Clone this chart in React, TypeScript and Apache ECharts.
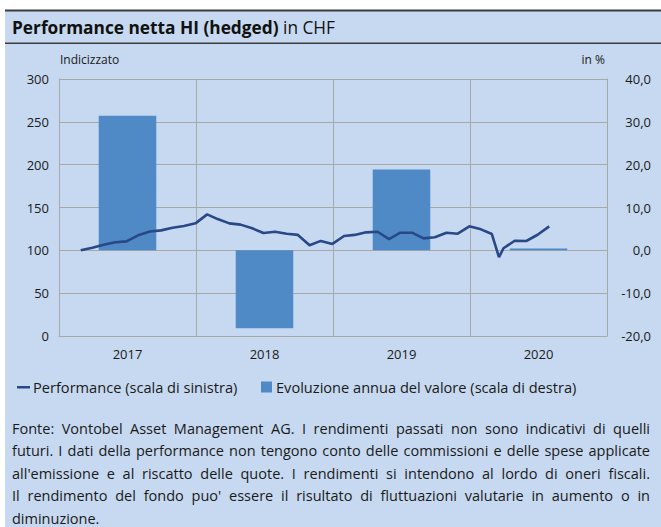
import React, { useEffect, useRef } from "react";
import * as echarts from "echarts";

// ---- data ----
const years = ["2017", "2018", "2019", "2020"];
const annualReturns = [31.4, -18.2, 18.9, 0.4]; // % (right scale)

const perfDates = [
  "2017-02-28", "2017-03-31", "2017-04-30", "2017-05-31", "2017-06-30", "2017-07-31",
  "2017-08-31", "2017-09-30", "2017-10-31", "2017-11-30", "2017-12-31",
  "2018-01-31", "2018-02-28", "2018-03-31", "2018-04-30", "2018-05-31", "2018-06-30",
  "2018-07-31", "2018-08-31", "2018-09-30", "2018-10-31", "2018-11-30", "2018-12-31",
  "2019-01-31", "2019-02-28", "2019-03-31", "2019-04-30", "2019-05-31", "2019-06-30",
  "2019-07-31", "2019-08-31", "2019-09-30", "2019-10-31", "2019-11-30", "2019-12-31",
  "2020-01-31", "2020-02-29", "2020-03-19", "2020-03-31", "2020-04-30", "2020-05-31",
  "2020-06-30", "2020-07-31",
];
const perfValues = [
  100, 103, 106.5, 109.5, 110.5, 117.5,
  122, 123.3, 126.4, 128.5, 131.5,
  142, 136.5, 131.5, 130, 125.7, 120.2,
  121.7, 119.4, 118, 106, 111, 107.5,
  116.7, 118, 121, 121.7, 113.2, 120.6,
  120.6, 114, 115.2, 120.6, 119.4, 128,
  124.5, 119, 92, 102.4, 111.2, 110.9,
  118.2, 128,
];

const leftAxis = { min: 0, max: 300, interval: 50 };
const rightAxis = { min: -20, max: 40, interval: 10 };

const titleBold = "Performance netta HI (hedged)";
const titleRest = " in CHF";
const leftAxisName = "Indicizzato";
const rightAxisName = "in %";
const legendLine = "Performance (scala di sinistra)";
const legendBar = "Evoluzione annua del valore (scala di destra)";
const footnoteLines = [
  "Fonte: Vontobel Asset Management AG. I rendimenti passati non sono indicativi di quelli",
  "futuri. I dati della performance non tengono conto delle commissioni e delle spese applicate",
  "all'emissione e al riscatto delle quote. I rendimenti si intendono al lordo di oneri fiscali.",
  "Il rendimento del fondo puo' essere il risultato di fluttuazioni valutarie in aumento o in",
  "diminuzione.",
];

const FONT = "'Open Sans', sans-serif";
const PANEL = "#C6D9F0";
const BAR = "#4F89C6";
const LINE = "#294887";
const GRID = "#A8A8A8";
const TEXT = "#1A1A1A";

export default function App() {
  const ref = useRef<HTMLDivElement>(null);

  useEffect(() => {
    const el = ref.current!;
    const chart = echarts.init(el, null, { renderer: "svg" });

    const ctx = document.createElement("canvas").getContext("2d")!;
    const measure = (t: string, size: number, weight = "normal") => {
      ctx.font = `${weight} ${size}px 'Open Sans'`;
      return ctx.measureText(t).width;
    };

    // footnote: justified lines between x0 and x1
    const x0 = 12;
    const x1 = 650;
    let fs = (636 / measure(footnoteLines[1], 100)) * 100;
    fs = Math.max(12.5, Math.min(14.5, fs));
    const lineYs = [428, 450.5, 473, 495.5, 518];
    const footEls: any[] = [];
    footnoteLines.forEach((line, li) => {
      const y = lineYs[li];
      const last = li === footnoteLines.length - 1;
      if (last) {
        footEls.push({
          type: "text",
          x: x0,
          y,
          style: { text: line, font: `${fs}px ${FONT}`, fill: TEXT, verticalAlign: "middle" },
        });
        return;
      }
      const words = line.split(" ");
      const widths = words.map((w) => measure(w, fs));
      const total = widths.reduce((a, b) => a + b, 0);
      const gap = (x1 - x0 - total) / (words.length - 1);
      let x = x0;
      words.forEach((w, i) => {
        footEls.push({
          type: "text",
          x,
          y,
          style: { text: w, font: `${fs}px ${FONT}`, fill: TEXT, verticalAlign: "middle" },
        });
        x += widths[i] + gap;
      });
    });

    const option: any = {
      animation: false,
      backgroundColor: "transparent",
      textStyle: { fontFamily: FONT },
      grid: { left: 59, right: 54, top: 79, bottom: 191 },
      xAxis: [
        {
          type: "category",
          data: years,
          boundaryGap: true,
          axisLine: { show: true, lineStyle: { color: GRID, width: 1 } },
          axisTick: { show: false },
          splitLine: { show: true, lineStyle: { color: GRID, width: 1 } },
          axisLabel: { color: TEXT, fontSize: 13, margin: 11, fontFamily: FONT },
        },
        {
          type: "time",
          show: false,
          min: "2017-01-01",
          max: "2021-01-01",
        },
      ],
      yAxis: [
        {
          type: "value",
          min: leftAxis.min,
          max: leftAxis.max,
          interval: leftAxis.interval,
          axisLine: { show: true, lineStyle: { color: GRID, width: 1 } },
          axisTick: { show: false },
          splitLine: { show: true, lineStyle: { color: GRID, width: 1 } },
          axisLabel: { color: TEXT, fontSize: 13, margin: 10, fontFamily: FONT },
        },
        {
          type: "value",
          position: "right",
          min: rightAxis.min,
          max: rightAxis.max,
          interval: rightAxis.interval,
          axisLine: { show: true, lineStyle: { color: GRID, width: 1 } },
          axisTick: { show: false },
          splitLine: { show: false },
          axisLabel: {
            color: TEXT,
            fontSize: 13,
            fontFamily: FONT,
            align: "right",
            margin: 44,
            formatter: (v: number) => v.toFixed(1).replace(".", ","),
          },
        },
      ],
      series: [
        {
          name: legendBar,
          type: "bar",
          xAxisIndex: 0,
          yAxisIndex: 1,
          data: annualReturns,
          barWidth: "42%",
          itemStyle: { color: BAR },
          z: 2,
        },
        {
          name: legendLine,
          type: "line",
          xAxisIndex: 1,
          yAxisIndex: 0,
          data: perfDates.map((d, i) => [d, perfValues[i]]),
          showSymbol: false,
          symbol: "none",
          lineStyle: { color: LINE, width: 2.6 },
          itemStyle: { color: LINE },
          z: 3,
        },
      ],
      graphic: [
        // header rules
        { type: "rect", shape: { x: 5, y: 9.5, width: 656, height: 2 }, style: { fill: "#3C3C3C" } },
        { type: "rect", shape: { x: 5, y: 42.5, width: 656, height: 1.5 }, style: { fill: "#3C3C3C" } },
        {
          type: "text",
          x: 12,
          y: 27,
          style: {
            text: `{b|${titleBold}}{n|${titleRest}}`,
            verticalAlign: "middle",
            rich: {
              b: { fontFamily: FONT, fontSize: 17.3, fontWeight: "bold", fill: "#111" },
              n: { fontFamily: FONT, fontSize: 17.3, fontWeight: "normal", fill: "#111" },
            },
          },
        },
        {
          type: "text",
          x: 60,
          y: 59,
          style: { text: leftAxisName, font: `12px ${FONT}`, fill: TEXT, verticalAlign: "middle" },
        },
        {
          type: "text",
          x: 605,
          y: 59,
          style: { text: rightAxisName, font: `12px ${FONT}`, fill: TEXT, verticalAlign: "middle", align: "right" },
        },
        // legend
        { type: "rect", shape: { x: 17, y: 386, width: 13, height: 2.5 }, style: { fill: LINE } },
        {
          type: "text",
          x: 33,
          y: 387,
          style: { text: legendLine, font: `14.6px ${FONT}`, fill: TEXT, verticalAlign: "middle" },
        },
        { type: "rect", shape: { x: 261, y: 381.5, width: 11, height: 11 }, style: { fill: BAR } },
        {
          type: "text",
          x: 276,
          y: 387,
          style: { text: legendBar, font: `14.6px ${FONT}`, fill: TEXT, verticalAlign: "middle" },
        },
        ...footEls,
      ],
    };

    chart.setOption(option);
    return () => chart.dispose();
  }, []);

  return (
    <div style={{ position: "fixed", left: 0, top: 0, width: 661, height: 527, background: "#fff" }}>
      <div style={{ position: "absolute", left: 5, top: 10, right: 0, bottom: 0, background: PANEL }} />
      <div ref={ref} style={{ position: "absolute", left: 0, top: 0, width: 661, height: 527 }} />
    </div>
  );
}
